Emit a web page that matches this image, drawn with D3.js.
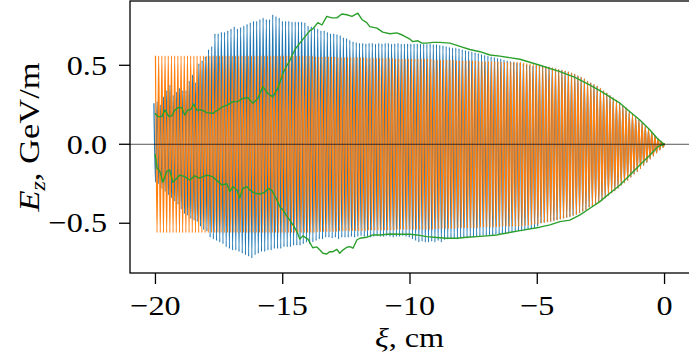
<!DOCTYPE html>
<html><head><meta charset="utf-8">
<script src="https://cdn.jsdelivr.net/npm/d3@7"></script>
<style>html,body{margin:0;padding:0;background:#fff;overflow:hidden}svg{display:block}</style>
</head><body>
<svg id="c" width="689" height="358"></svg>
<script>
// ---- data ----
const xTicks = [-20, -15, -10, -5, 0];
const yTicks = [-0.5, 0.0, 0.5];
const xTickLabels = ["\u221220", "\u221215", "\u221210", "\u22125", "0"];
const yTickLabels = ["\u22120.5", "0.0", "0.5"];
const xiStart = -20, xiEnd = 0;     // span of the oscillating fields, cm
const nPeriods = 159;               // plasma periods along the span

// orange field: amplitude of each period (positive and negative peak)
const orangeAmp = [
.56,.56,.56,.56,.56,.56,.56,.56,.56,.56,
.56,.56,.56,.56,.56,.56,.56,.56,.56,.56,
.56,.56,.56,.56,.56,.56,.56,.56,.56,.56,
.56,.56,.56,.56,.56,.56,.56,.56,.56,.56,
.56,.56,.56,.56,.56,.56,.56,.56,.56,.56,
.555,.555,.555,.555,.555,.555,.555,.55,.55,.55,
.55,.55,.55,.55,.55,.55,.545,.545,.545,.545,
.545,.545,.545,.545,.545,.54,.54,.54,.54,.54,
.54,.54,.54,.54,.54,.54,.54,.535,.535,.535,
.535,.535,.535,.535,.53,.53,.53,.53,.53,.53,
.53,.525,.525,.525,.525,.525,.525,.525,.52,.52,
.52,.52,.52,.52,.52,.515,.513,.51,.507,.505,
.50,.497,.493,.49,.485,.48,.475,.47,.465,.46,
.452,.445,.435,.425,.415,.40,.39,.38,.37,.355,
.34,.325,.31,.295,.28,.26,.245,.23,.21,.19,
.175,.155,.135,.115,.095,.075,.055,.035,.018,.005];

// blue field: positive and negative peak of each period
const blueTop = [
.26,.27,.25,.30,.34,.375,.31,.33,.355,.34,
.34,.40,.44,.39,.51,.53,.555,.60,.62,.70,
.70,.71,.71,.72,.73,.745,.73,.74,.75,.76,
.77,.78,.78,.79,.80,.79,.79,.82,.81,.80,
.78,.78,.78,.775,.775,.775,.775,.77,.75,.745,
.735,.73,.72,.72,.71,.70,.70,.695,.69,.675,
.67,.66,.65,.645,.64,.64,.638,.64,.64,.636,
.64,.638,.64,.64,.636,.638,.64,.636,.636,.638,
.635,.636,.635,.635,.636,.634,.635,.633,.632,.628,
.625,.62,.615,.61,.61,.605,.60,.595,.59,.585,
.58,.575,.57,.565,.56,.555,.55,.545,.54,.535,
.53,.525,.52,.515,.515,.51,.505,.50,.495,.50,
.50,.497,.493,.49,.485,.48,.475,.47,.465,.46,
.452,.445,.435,.425,.415,.40,.39,.38,.37,.355,
.34,.325,.31,.295,.28,.26,.245,.23,.21,.19,
.175,.155,.135,.115,.095,.075,.055,.035,.018,.005];
const blueBot = [
-.24,-.25,-.28,-.30,-.32,-.34,-.36,-.38,-.41,-.44,
-.45,-.47,-.48,-.49,-.52,-.54,-.55,-.59,-.60,-.61,
-.62,-.63,-.65,-.66,-.67,-.67,-.68,-.69,-.70,-.71,
-.72,-.70,-.69,-.68,-.68,-.67,-.67,-.66,-.66,-.66,
-.65,-.65,-.65,-.64,-.64,-.64,-.63,-.62,-.63,-.62,
-.61,-.60,-.60,-.59,-.59,-.595,-.59,-.60,-.59,-.59,
-.59,-.585,-.59,-.585,-.58,-.585,-.585,-.59,-.585,-.58,
-.585,-.585,-.58,-.585,-.59,-.585,-.585,-.58,-.585,-.59,
-.60,-.61,-.62,-.615,-.62,-.62,-.615,-.62,-.61,-.62,
-.605,-.60,-.595,-.595,-.60,-.595,-.59,-.595,-.59,-.59,
-.585,-.585,-.58,-.58,-.575,-.575,-.57,-.57,-.565,-.565,
-.56,-.56,-.555,-.55,-.55,-.545,-.54,-.535,-.53,-.52,
-.50,-.497,-.493,-.49,-.485,-.48,-.475,-.47,-.465,-.46,
-.452,-.445,-.435,-.425,-.415,-.40,-.39,-.38,-.37,-.355,
-.34,-.325,-.31,-.295,-.28,-.26,-.245,-.23,-.21,-.19,
-.175,-.155,-.135,-.115,-.095,-.075,-.055,-.035,-.018,-.005];

// green envelope
const envUpperXi = [-20.02,-19.91,-19.75,-19.63,-19.47,-19.36,-19.24,-19.08,-18.96,-18.85,-18.73,-18.61,-18.50,-18.38,-18.18,-17.98,-17.75,-17.55,-17.35,-17.16,-16.96,-16.77,-16.57,-16.37,-16.17,-15.98,-15.78,-15.58,-15.39,-15.19,-14.99,-14.83,-14.72,-14.52,-14.33,-14.13,-13.93,-13.82,-13.62,-13.46,-13.27,-13.07,-12.87,-12.68,-12.48,-12.28,-12.05,-11.89,-11.70,-11.58,-11.30,-11.07,-10.79,-10.52,-10.28,-10.00,-9.89,-9.69,-9.53,-9.34,-9.10,-8.83,-8.43,-8.04,-7.65,-7.25,-6.86,-6.47,-5.68,-4.90,-4.11,-3.52,-2.93,-2.54,-2.15,-1.75,-1.36,-0.97,-0.57,-0.30,-0.10,0.0];
const envUpper = [0.196,0.175,0.175,0.217,0.175,0.18,0.217,0.234,0.23,0.185,0.217,0.22,0.255,0.217,0.217,0.20,0.196,0.217,0.238,0.249,0.27,0.27,0.29,0.295,0.26,0.29,0.365,0.32,0.30,0.355,0.45,0.50,0.53,0.60,0.64,0.68,0.72,0.73,0.77,0.755,0.81,0.80,0.80,0.825,0.82,0.81,0.83,0.79,0.77,0.745,0.735,0.71,0.70,0.705,0.69,0.665,0.65,0.655,0.64,0.64,0.645,0.645,0.64,0.62,0.60,0.586,0.565,0.558,0.538,0.50,0.46,0.424,0.375,0.34,0.30,0.26,0.206,0.154,0.09,0.04,0.01,0.0];
const envLowerXi = [-20.02,-19.98,-19.94,-19.83,-19.71,-19.55,-19.44,-19.32,-19.16,-19.04,-18.85,-18.65,-18.46,-18.26,-17.98,-17.75,-17.55,-17.39,-17.19,-17.08,-16.96,-16.80,-16.69,-16.57,-16.41,-16.29,-16.10,-15.90,-15.70,-15.58,-15.43,-15.23,-15.11,-14.99,-14.83,-14.72,-14.60,-14.44,-14.33,-14.21,-14.01,-13.82,-13.66,-13.54,-13.42,-13.27,-13.15,-13.03,-12.87,-12.76,-12.64,-12.48,-12.36,-12.24,-12.09,-11.97,-11.70,-11.46,-11.18,-10.79,-10.40,-10.00,-9.73,-9.34,-8.94,-8.55,-8.16,-7.76,-7.37,-6.98,-6.58,-6.47,-5.68,-4.90,-4.50,-4.11,-3.72,-3.32,-2.93,-2.54,-2.15,-1.75,-1.36,-0.97,-0.57,-0.26,0.0];
const envLower = [-0.06,-0.10,-0.15,-0.17,-0.24,-0.17,-0.163,-0.24,-0.215,-0.195,-0.205,-0.226,-0.20,-0.215,-0.195,-0.205,-0.235,-0.258,-0.25,-0.30,-0.268,-0.29,-0.34,-0.28,-0.268,-0.29,-0.31,-0.315,-0.305,-0.28,-0.29,-0.352,-0.395,-0.416,-0.458,-0.48,-0.51,-0.553,-0.60,-0.58,-0.6,-0.655,-0.65,-0.669,-0.69,-0.695,-0.68,-0.68,-0.665,-0.69,-0.67,-0.652,-0.648,-0.658,-0.606,-0.595,-0.589,-0.574,-0.574,-0.568,-0.57,-0.57,-0.574,-0.585,-0.59,-0.595,-0.595,-0.589,-0.585,-0.58,-0.574,-0.57,-0.547,-0.525,-0.51,-0.49,-0.48,-0.447,-0.405,-0.363,-0.31,-0.258,-0.194,-0.131,-0.068,-0.015,0.0];

// ---- layout ----
const L = 130, R = 690, T = 1, B = 273;
const FONT = "'Liberation Serif','Times New Roman',serif";
const FS = 28, SX = 1.15;      // tick label size and horizontal stretch
const FSL = 30, FSX = 28;      // y and x axis label sizes

const svg = d3.select("#c");
const x = d3.scaleLinear().domain([-21, 1]).range([L, R]);
const y = d3.scaleLinear().domain([-0.815, 0.907]).range([B, T]);

const period = (xiEnd - xiStart) / nPeriods;
const periodBlue = period * 1.003;

const ptsOrange = [];
orangeAmp.forEach((a, i) => {
  const xi = xiStart + i * period;
  ptsOrange.push([xi, a]);
  if (i < orangeAmp.length - 1) ptsOrange.push([xi + period / 2, -a]);
});
const ptsBlue = [];
const nb = blueTop.length;
blueTop.forEach((a, i) => {
  const xi = xiEnd + (i - (nb - 1)) * periodBlue;
  ptsBlue.push([xi, a]);
  if (i < nb - 1) ptsBlue.push([xi + periodBlue / 2, blueBot[i]]);
});

const osc = d3.line().x(d => x(d[0])).y(d => y(d[1])).curve(d3.curveMonotoneX);
const envLine = d3.line().x(d => x(d[0])).y(d => y(d[1]));

svg.append("defs").append("clipPath").attr("id", "plotclip")
  .append("rect").attr("x", L).attr("y", T).attr("width", R - L).attr("height", B - T);
const plot = svg.append("g").attr("clip-path", "url(#plotclip)");

plot.append("path").attr("d", osc(ptsBlue)).attr("fill", "none")
  .attr("stroke", "#1f77b4").attr("stroke-width", 1.2);
plot.append("path").attr("d", osc(ptsOrange)).attr("fill", "none")
  .attr("stroke", "#ff7f0e").attr("stroke-width", 1.2);
plot.append("path").attr("d", envLine(envUpperXi.map((v, i) => [v, envUpper[i]])))
  .attr("fill", "none").attr("stroke", "#2ca02c").attr("stroke-width", 1.4).attr("stroke-linejoin", "round");
plot.append("path").attr("d", envLine(envLowerXi.map((v, i) => [v, envLower[i]])))
  .attr("fill", "none").attr("stroke", "#2ca02c").attr("stroke-width", 1.4).attr("stroke-linejoin", "round");
plot.append("line").attr("x1", L).attr("x2", R).attr("y1", y(0)).attr("y2", y(0))
  .attr("stroke", "#000").attr("stroke-opacity", 0.75).attr("stroke-width", 0.9);

// frame
svg.append("rect").attr("x", L).attr("y", T).attr("width", R - L).attr("height", B - T)
  .attr("fill", "none").attr("stroke", "#000").attr("stroke-width", 1.3);

// x axis ticks
const gx = svg.append("g");
gx.selectAll("line").data(xTicks).join("line")
  .attr("x1", d => x(d)).attr("x2", d => x(d)).attr("y1", B).attr("y2", B + 11)
  .attr("stroke", "#000").attr("stroke-width", 1.3);
gx.selectAll("text").data(xTicks).join("text")
  .attr("transform", d => `translate(${x(d)},315) scale(${SX},1)`)
  .attr("text-anchor", "middle")
  .attr("font-family", FONT).attr("font-size", FS)
  .text((d, i) => xTickLabels[i]);

// y axis ticks
const gy = svg.append("g");
gy.selectAll("line").data(yTicks).join("line")
  .attr("x1", L - 11).attr("x2", L).attr("y1", d => y(d)).attr("y2", d => y(d))
  .attr("stroke", "#000").attr("stroke-width", 1.3);
gy.selectAll("text").data(yTicks).join("text")
  .attr("transform", d => `translate(107,${y(d) + FS * 0.33}) scale(${SX},1)`)
  .attr("text-anchor", "end")
  .attr("font-family", FONT).attr("font-size", FS)
  .text((d, i) => yTickLabels[i]);

// axis labels
const xl = svg.append("text").attr("transform", `translate(${(L + 689) / 2},347) scale(${SX},1)`)
  .attr("text-anchor", "middle").attr("font-family", FONT).attr("font-size", FSX);
xl.append("tspan").attr("font-style", "italic").text("\u03be");
xl.append("tspan").text(", cm");

const yl = svg.append("text")
  .attr("transform", `translate(39,${(T + B) / 2}) rotate(-90) scale(${SX},1)`)
  .attr("text-anchor", "middle").attr("font-family", FONT).attr("font-size", FSL);
yl.append("tspan").attr("font-style", "italic").text("E");
yl.append("tspan").attr("font-style", "italic").attr("font-size", FSL * 0.7).attr("dy", 6).text("z");
yl.append("tspan").attr("dy", -6).text(", GeV/m");
</script>
</body></html>
